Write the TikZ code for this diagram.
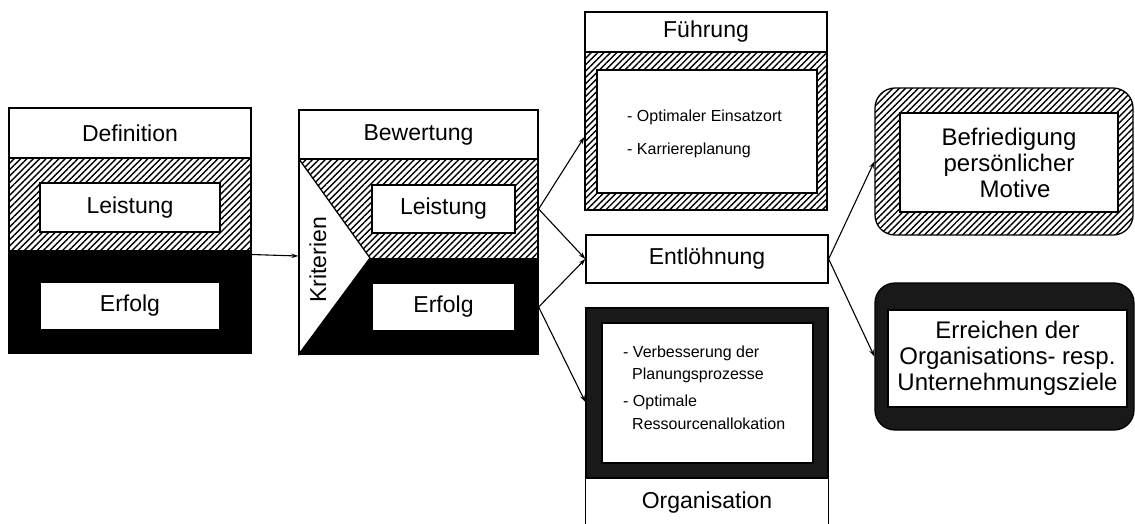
\documentclass[tikz,border=0pt]{standalone}
\usepackage{fontspec}
\setmainfont{Liberation Sans}
\usetikzlibrary{patterns.meta,arrows.meta,calc}
\begin{document}
\begin{tikzpicture}[x=1pt,y=-1pt,
  hatch/.style={pattern={Lines[angle=45,distance=4.5pt,line width=1.4pt]}},
  frame/.style={draw,line width=1.3pt,inner sep=0pt},
  box/.style={draw,fill=white,line width=1.3pt,inner sep=0pt,align=center},
  big/.style={font=\fontsize{23}{27}\selectfont},
  goal/.style={font=\fontsize{24}{26}\selectfont},
  small/.style={font=\fontsize{16}{18}\selectfont,inner sep=0pt,anchor=west},
  arr/.style={line width=1.1pt,-{Stealth[length=7pt,width=4.5pt]}},
]
\useasboundingbox (0,0) rectangle (1135,523);

% Definition block
\fill[hatch] (9,158) rectangle (251,250);
\fill[black] (9,250) rectangle (251,353);
\node[box,big,minimum width=242pt,minimum height=50pt] (defhead) at (130,133) {Definition};
\node[frame,minimum width=242pt,minimum height=245pt] (def) at (130,230.5) {};
\node[box,big,minimum width=180pt,minimum height=49pt] (defL) at (130,207.5) {Leistung};
\node[box,big,minimum width=180pt,minimum height=48pt] (defE) at (130,306) {Erfolg};

% Bewertung block with the criteria wedge
\fill[hatch] (299,159) rectangle (538,258);
\fill[black] (299,258) rectangle (538,354);
\filldraw[fill=white,line width=1.3pt] (299,159) -- (370,258) -- (299,354) -- cycle;
\node[box,big,minimum width=239pt,minimum height=49pt] (bewhead) at (418.5,134.5) {Bewertung};
\node[frame,minimum width=239pt,minimum height=244pt] (bew) at (418.5,232) {};
\node[big,rotate=90,inner sep=0pt] (krit) at (318,260) {Kriterien};
\node[box,big,minimum width=143pt,minimum height=48pt] (bewL) at (443.5,209) {Leistung};
\node[box,big,minimum width=143pt,minimum height=48pt] (bewE) at (443.5,307) {Erfolg};

% Fuehrung
\fill[hatch] (585,52) rectangle (827,210);
\node[box,big,minimum width=242pt,minimum height=40pt] (fuehead) at (706,32) {Führung};
\node[frame,minimum width=242pt,minimum height=198pt] (fue) at (706,111) {};
\node[box,minimum width=220pt,minimum height=123pt] (fuein) at (707,131.5) {};
\node[small] (fue1) at (627,117) {- Optimaler Einsatzort};
\node[small] (fue2) at (627,150) {- Karriereplanung};

% Entloehnung
\node[box,big,minimum width=242pt,minimum height=48pt] (ent) at (707,259) {Entlöhnung};

% Organisation
\fill[black!90] (586,308) rectangle (828,478);
\node[frame,minimum width=242pt,minimum height=170pt] (org) at (707,393) {};
\node[box,minimum width=211pt,minimum height=140pt] (orgin) at (707.5,393) {};
\node[small] (org1) at (623,353) {- Verbesserung der};
\node[small] (org2) at (632,375) {Planungsprozesse};
\node[small] (org3) at (623,402) {- Optimale};
\node[small] (org4) at (632,424) {Ressourcenallokation};
\draw[line width=1.3pt] (org.south west) -- ++(0,50) (org.south east) -- ++(0,50);
\node[big] (orglab) at (707,503) {Organisation};

% Goals
\node[draw,line width=1.3pt,rounded corners=20pt,hatch,minimum width=258pt,minimum height=147pt] (bef) at (1004,161.5) {};
\node[box,goal,minimum width=218pt,minimum height=99pt] (befin) at (1009,162.5) {Befriedigung\\persönlicher\\\hspace{0.5em}Motive};
\node[draw,line width=1.3pt,rounded corners=20pt,fill=black!90,minimum width=259pt,minimum height=147pt] (err) at (1004.5,356.5) {};
\node[box,goal,minimum width=239pt,minimum height=97pt] (errin) at (1007.5,358.5) {Erreichen der\\Organisations- resp.\\Unternehmungsziele};

% Connectors
\draw[arr] ($(def.east)+(0,24)$) -- ($(bew.west)+(0,24)$);
\draw[arr] (bewL -| bew.east) -- ($(fue.west)+(0,26)$);
\draw[arr] (bewL -| bew.east) -- (ent.west);
\draw[arr] (bewE -| bew.east) -- (ent.west);
\draw[arr] (bewE -| bew.east) -- ($(org.west)+(0,9)$);
\draw[arr] (ent.east) -- (bef.west);
\draw[arr] (ent.east) -- (err.west);
\end{tikzpicture}
\end{document}
